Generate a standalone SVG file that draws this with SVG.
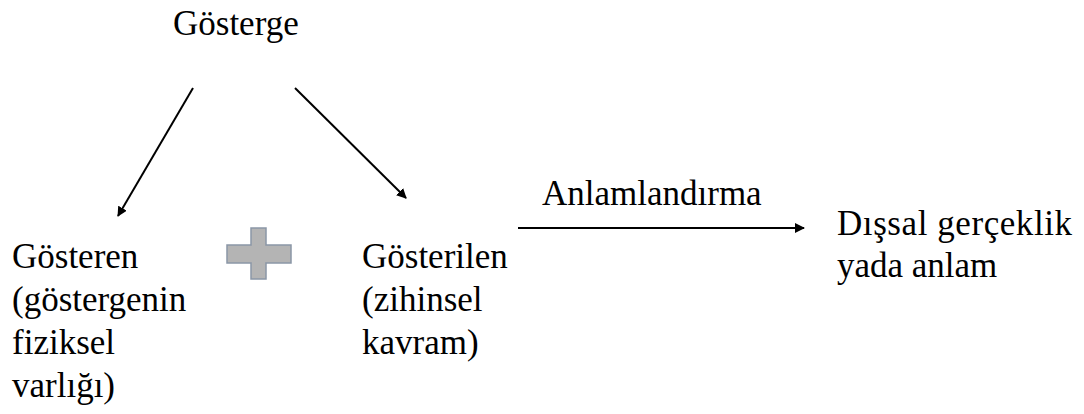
<svg xmlns="http://www.w3.org/2000/svg" width="1084" height="414" viewBox="0 0 1084 414">
<style>
.c{stroke:#000;stroke-width:2;fill:none;marker-end:url(#ah)}
</style>
<defs>
<marker id="ah" viewBox="0 0 10 10" refX="9" refY="5" markerWidth="5" markerHeight="5" orient="auto" markerUnits="strokeWidth">
<path d="M0,0 L10,5 L0,10 Z" fill="#000"/>
</marker>
</defs>
<rect width="1084" height="414" fill="#fff"/>
<g id="connectors">
<line class="c" x1="193" y1="88" x2="118" y2="216"/>
<line class="c" x1="295" y1="88" x2="406" y2="198"/>
<line class="c" x1="518" y1="228" x2="804" y2="228"/>
</g>
<g font-family="Times New Roman, Liberation Serif, DejaVu Serif, serif" font-size="35" fill="#000">
<g id="gosterge"><text x="173" y="35">Gösterge</text></g>
<g id="gosteren">
<text x="12" y="268">Gösteren</text>
<text x="12" y="311">(göstergenin</text>
<text x="12" y="354">fiziksel</text>
<text x="12" y="397">varlığı)</text>
</g>
<g id="gosterilen">
<text x="362" y="268">Gösterilen</text>
<text x="362" y="311">(zihinsel</text>
<text x="362" y="354">kavram)</text>
</g>
<g id="anlamlandirma"><text x="542" y="205">Anlamlandırma</text></g>
<g id="dissal">
<text x="837" y="235" textLength="235">Dışsal gerçeklik</text>
<text x="837" y="277">yada anlam</text>
</g>
</g>
<g id="plus"><path d="M251,228 H266 V245 H291 V263 H266 V279 H251 V263 H227 V245 H251 Z" fill="#b4b4b4" stroke="#8a96a6" stroke-width="1.5"/></g>
</svg>
